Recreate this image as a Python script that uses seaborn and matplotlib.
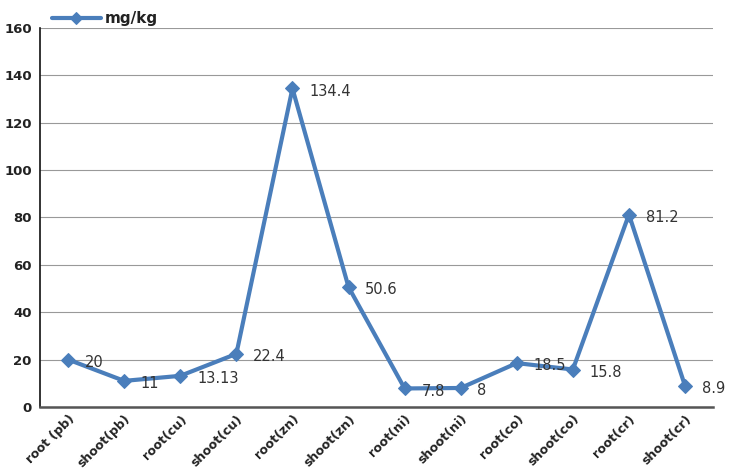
import matplotlib
matplotlib.use("Agg")
import matplotlib.pyplot as plt
import seaborn as sns
import pandas as pd

categories = ["root (pb)", "shoot(pb)", "root(cu)", "shoot(cu)", "root(zn)", "shoot(zn)",
              "root(ni)", "shoot(ni)", "root(co)", "shoot(co)", "root(cr)", "shoot(cr)"]
values = [20, 11, 13.13, 22.4, 134.4, 50.6, 7.8, 8, 18.5, 15.8, 81.2, 8.9]
value_labels = ["20", "11", "13.13", "22.4", "134.4", "50.6", "7.8", "8", "18.5", "15.8", "81.2", "8.9"]
y_ticks = [0, 20, 40, 60, 80, 100, 120, 140, 160]

sns.set_style("white")
plt.rcParams['font.family'] = ['DejaVu Sans']

df = pd.DataFrame({"cat": categories, "val": values, "x": range(len(categories))})

fig = plt.figure(figsize=(7.42, 4.71), dpi=100)
ax = fig.add_axes([0.054, 0.136, 0.907, 0.805])

color = "#4a7ebb"
sns.lineplot(data=df, x="x", y="val", ax=ax, color=color, linewidth=3,
             marker="D", markersize=7, markeredgecolor=color, label="mg/kg")

for i, (v, t) in enumerate(zip(values, value_labels)):
    ax.annotate(t, (i, v), xytext=(12, -2), textcoords="offset points",
                va="center", ha="left", fontsize=10.5, color="#333333")

ax.set_xlim(-0.5, len(categories) - 0.5)
ax.set_ylim(0, 160)
ax.set_yticks(y_ticks)
ax.set_xticks(range(len(categories)))
ax.set_xticklabels(categories, rotation=45, ha="right", rotation_mode="anchor",
                   fontsize=9, fontweight="bold", color="#222222")
ax.tick_params(axis="y", labelsize=9.5, labelcolor="#222222", length=0, pad=6)
for lab in ax.get_yticklabels():
    lab.set_fontweight("bold")
ax.tick_params(axis="x", length=0, pad=4)
ax.set_xlabel("")
ax.set_ylabel("")
ax.grid(axis="y", color="#999999", linewidth=0.8)
ax.set_axisbelow(True)
for s in ["top", "right"]:
    ax.spines[s].set_visible(False)
ax.spines["left"].set_color("#111111")
ax.spines["left"].set_linewidth(1.2)
ax.spines["bottom"].set_color("#555555")
ax.spines["bottom"].set_linewidth(1.8)

leg = ax.legend(loc="lower left", bbox_to_anchor=(0.015, 1.0), frameon=False,
                fontsize=11, handlelength=3.2, handletextpad=0.3,
                borderaxespad=0, borderpad=0.1)
for t in leg.get_texts():
    t.set_fontweight("bold")
    t.set_color("#222222")
for h in leg.legend_handles:
    h.set_markersize(6)

fig.savefig("out.png", dpi=100)
